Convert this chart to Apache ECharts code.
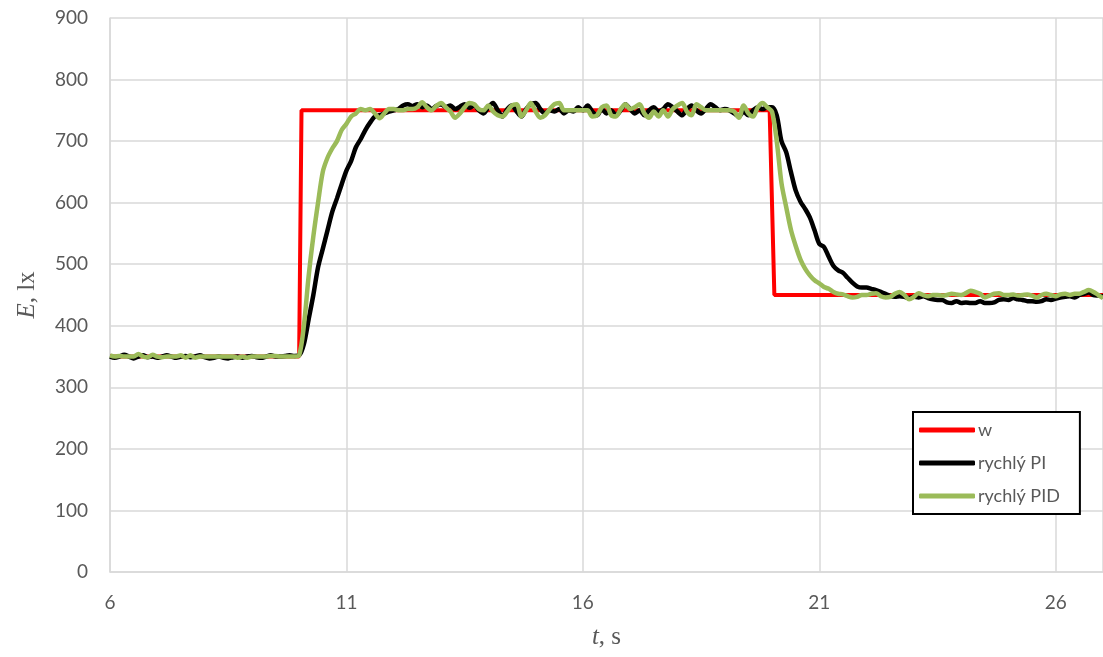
<!DOCTYPE html>
<html>
<head>
<meta charset="utf-8">
<title>E, lx</title>
<script src="https://cdn.jsdelivr.net/npm/echarts@6/dist/echarts.min.js"></script>
<style>
	html, body { margin: 0; padding: 0; background: #fff; }
	#main { width: 1103px; height: 657px; }
</style>
</head>
<body>
<div id="main"></div>
<script>
// 时间轴：从 6 s 开始，每 0.1 s 一个采样点
var tStart = 6;
var tStep = 0.1;

// w（设定值）的转折点
var wTime = [6, 10, 10.05, 19.95, 20.05, 27];
var wValue = [350, 350, 750, 750, 450, 450];

// rychlý PI
var piValue = [
	350, 348, 350, 353, 350, 347, 350, 352, 349, 350,
	348, 350, 352, 350, 348, 350, 351, 349, 350, 352,
	349, 347, 348, 350, 348, 347, 349, 350, 348, 350,
	351, 349, 348, 350, 352, 350, 350, 351, 352, 351,
	352, 370, 410, 450, 495, 525, 555, 585, 607, 630,
	652, 668, 690, 703, 718, 730, 740, 742, 745, 748,
	750, 752, 758, 760, 757, 760, 755, 758, 752, 757,
	760, 755, 758, 752, 756, 760, 754, 758, 750, 745,
	755, 762, 750, 740, 752, 758, 748, 740, 752, 760,
	762, 752, 745, 750, 748, 752, 745, 750, 748, 755,
	750, 758, 748, 742, 752, 745, 750, 742, 750, 760,
	752, 745, 750, 742, 750, 755, 748, 752, 760, 755,
	748, 742, 752, 758, 750, 745, 752, 760, 755, 750,
	752, 750, 745, 740, 748, 742, 750, 755, 752, 755,
	755, 742, 700, 682, 650, 620, 602, 590, 576, 555,
	533, 528, 512, 497, 490, 486, 478, 470, 464, 462,
	462, 460, 458, 455, 452, 448, 447, 448, 447, 445,
	447, 446, 448, 445, 443, 442, 442, 438, 437, 440,
	437, 438, 437, 437, 440, 437, 437, 438, 442, 443,
	442, 445, 443, 442, 440, 440, 439, 440, 443, 442,
	444, 446, 447, 448, 446, 450, 452, 454, 450, 449,
	448
];

// rychlý PID
var pidValue = [
	352, 350, 351, 350, 350, 350, 354, 350, 349, 353,
	350, 349, 350, 350, 350, 352, 348, 352, 348, 350,
	350, 350, 350, 350, 350, 350, 350, 348, 350, 348,
	350, 350, 350, 350, 351, 351, 350, 350, 350, 350,
	352, 400, 480, 545, 600, 650, 673, 688, 700, 718,
	728, 740, 745, 752, 750, 752, 745, 737, 745, 752,
	752, 750, 750, 752, 752, 755, 763, 755, 750, 757,
	762, 755, 748, 738, 745, 755, 762, 760, 752, 750,
	758, 748, 742, 740, 748, 758, 760, 740, 750, 762,
	748, 738, 742, 752, 760, 762, 750, 750, 750, 750,
	750, 750, 740, 742, 755, 758, 742, 740, 752, 760,
	752, 755, 760, 745, 738, 748, 740, 750, 740, 752,
	758, 762, 748, 742, 760, 755, 750, 750, 750, 750,
	750, 750, 748, 738, 758, 745, 740, 755, 762, 755,
	748, 700, 632, 593, 556, 530, 508, 493, 482, 474,
	469, 463, 460, 455, 452, 451, 448, 446, 447, 450,
	450, 452, 453, 448, 446, 447, 452, 455, 450, 443,
	447, 453, 450, 448, 450, 450, 449, 450, 452, 451,
	450, 453, 457, 455, 452, 446, 449, 452, 453, 450,
	450, 451, 449, 450, 451, 449, 446, 450, 452, 450,
	448, 451, 452, 450, 452, 452, 455, 458, 455, 450,
	445
];

var xTicks = { min: 6, max: 27, interval: 5 };
var yTicks = { min: 0, max: 900, interval: 100 };

/**
 * 把时间和数值拼成 [t, v] 点
 */
function toPairs(times, values) {
	var out = [];
	for (var i = 0; i < values.length; i++) {
		out.push([times[i], values[i]]);
	}
	return out;
}

/**
 * 等间隔采样的时间列
 */
function sampleTimes(n) {
	var out = [];
	for (var i = 0; i < n; i++) {
		out.push(Math.round((tStart + i * tStep) * 10) / 10);
	}
	return out;
}

var chart = echarts.init(document.getElementById('main'));

var labelColor = '#595959';
var gridColor = '#d9d9d9';

var option = {
	animation: false,
	grid: {
		left: 110,
		right: 0,
		top: 18,
		bottom: 85,
		containLabel: false
	},
	legend: {
		orient: 'vertical',
		left: 913,
		top: 412,
		padding: [9, 20, 9, 6],
		itemGap: 15,
		itemWidth: 56,
		itemHeight: 5,
		icon: 'roundRect',
		borderColor: '#000',
		borderWidth: 2,
		backgroundColor: '#fff',
		textStyle: {
			fontFamily: 'Lato',
			fontSize: 18,
			color: labelColor,
			padding: [0, 0, 0, -2]
		},
		data: ['w', 'rychlý PI', 'rychlý PID']
	},
	xAxis: {
		type: 'value',
		min: xTicks.min,
		max: xTicks.max,
		interval: xTicks.interval,
		name: '{i|t}, s',
		nameLocation: 'middle',
		nameGap: 53,
		nameTextStyle: {
			fontFamily: 'Liberation Serif',
			fontSize: 25,
			color: labelColor,
			rich: {
				i: { fontFamily: 'Liberation Serif', fontStyle: 'italic', fontSize: 25, color: labelColor }
			}
		},
		axisLine: { show: true, lineStyle: { color: gridColor, width: 1.5 } },
		axisTick: { show: false },
		axisLabel: {
			margin: 21,
			fontFamily: 'Lato',
			fontSize: 19,
			color: labelColor,
			showMaxLabel: false
		},
		splitLine: { show: true, lineStyle: { color: gridColor, width: 1.5 } }
	},
	yAxis: {
		type: 'value',
		min: yTicks.min,
		max: yTicks.max,
		interval: yTicks.interval,
		name: '{i|E}, lx',
		nameLocation: 'middle',
		nameGap: 70,
		nameTextStyle: {
			fontFamily: 'Liberation Serif',
			fontSize: 25,
			color: labelColor,
			rich: {
				i: { fontFamily: 'Liberation Serif', fontStyle: 'italic', fontSize: 25, color: labelColor }
			}
		},
		axisLine: { show: true, lineStyle: { color: gridColor, width: 1.5 } },
		axisTick: { show: false },
		axisLabel: {
			margin: 22,
			fontFamily: 'Lato',
			fontSize: 19,
			color: labelColor
		},
		splitLine: { show: true, lineStyle: { color: gridColor, width: 1.5 } }
	},
	series: [
		{
			name: 'w',
			type: 'line',
			showSymbol: false,
			color: '#ff0000',
			lineStyle: { width: 4, color: '#ff0000' },
			data: toPairs(wTime, wValue)
		},
		{
			name: 'rychlý PI',
			type: 'line',
			showSymbol: false,
			smooth: 0.3,
			color: '#000000',
			lineStyle: { width: 4.5, color: '#000000' },
			data: toPairs(sampleTimes(piValue.length), piValue)
		},
		{
			name: 'rychlý PID',
			type: 'line',
			showSymbol: false,
			smooth: 0.3,
			color: '#9bbb59',
			lineStyle: { width: 4.5, color: '#9bbb59' },
			data: toPairs(sampleTimes(pidValue.length), pidValue)
		}
	]
};

chart.setOption(option);
</script>
</body>
</html>
